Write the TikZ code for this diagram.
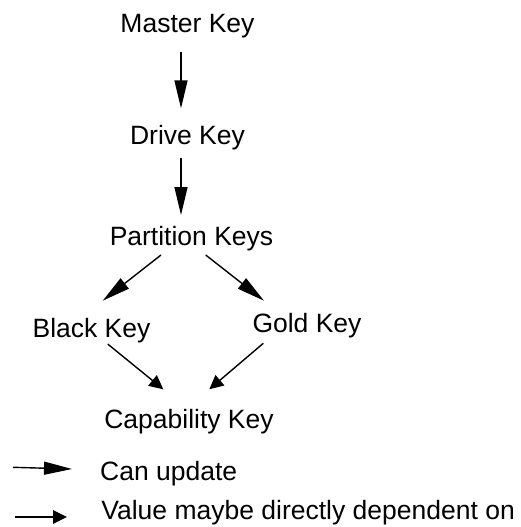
\documentclass[tikz,border=0pt]{standalone}
\usepackage{fontspec}
\setmainfont{Liberation Sans}
\usetikzlibrary{arrows.meta}
\begin{document}
\begin{tikzpicture}[x=1pt,y=-1pt,
  keytext/.style={anchor=base,inner sep=0pt,font=\fontsize{26.5}{31}\selectfont},
  legtext/.style={anchor=base west,inner sep=0pt,font=\fontsize{26.5}{31}\selectfont},
  upd/.style={line width=1.4pt,-{Triangle[length=28pt,width=13pt]}},
  dep/.style={line width=1.4pt,-{Triangle[length=14pt,width=13.5pt]}}]
\useasboundingbox (0,0) rectangle (520,527);
\node[keytext] (m) at (187.5,33) {Master Key};
\node[keytext] (d) at (187.5,144) {Drive Key};
\node[keytext] (p) at (191.5,245) {Partition Keys};
\node[keytext] (b) at (91.5,337) {Black Key};
\node[keytext] (g) at (307,332.7) {Gold Key};
\node[keytext] (c) at (189,428) {Capability Key};
\node[legtext] (l1) at (100,480) {Can update};
\node[legtext] (l2) at (101.2,519.5) {Value maybe directly dependent on};
\coordinate (a1s) at (13,467.3);
\coordinate (a1e) at (72,469);
\coordinate (a2s) at (15,517);
\coordinate (a2e) at (67,517);
\draw[upd] ([shift={(-6.5,18.7)}]m.base) -- ([shift={(-6.5,-35.7)}]d.base);
\draw[upd] ([shift={(-6.5,14)}]d.base) -- ([shift={(-10.5,-30)}]p.base);
\draw[upd] ([shift={(-30.5,10)}]p.base) -- ([shift={(11.2,-36.3)}]b.base);
\draw[upd] ([shift={(14.2,10)}]p.base) -- ([shift={(-43,-32)}]g.base);
\draw[dep] ([shift={(16.2,7)}]b.base) -- ([shift={(-25.7,-38.7)}]c.base);
\draw[dep] ([shift={(-43.7,10.6)}]g.base) -- ([shift={(20.3,-38.7)}]c.base);
\draw[upd] (a1s) -- (a1e);
\draw[dep] (a2s) -- (a2e);
\end{tikzpicture}
\end{document}
